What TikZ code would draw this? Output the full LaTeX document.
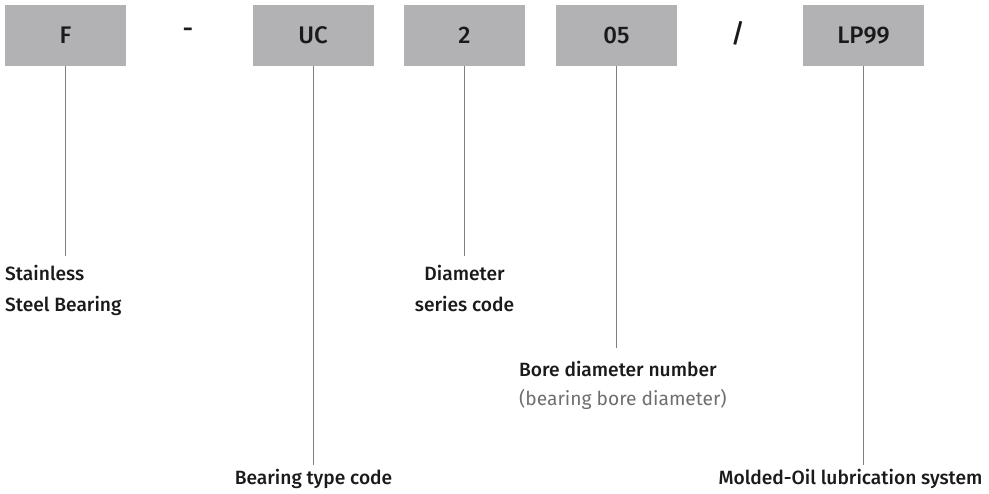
\documentclass[tikz,border=0pt]{standalone}
\usepackage{fontspec}
\setmainfont{Fira Sans}[BoldFont={Fira Sans Medium}]
\usetikzlibrary{positioning}
\definecolor{boxgray}{RGB}{178,178,180}
\definecolor{inkdark}{RGB}{26,26,26}
\definecolor{linegray}{RGB}{128,128,128}
\definecolor{notegray}{RGB}{110,110,110}

\begin{document}
\begin{tikzpicture}[x=1pt,y=-1pt,
  codebox/.style={fill=boxgray,minimum width=121pt,minimum height=61pt,inner sep=0pt,font=\fontsize{24}{28}\selectfont\bfseries,text=inkdark},
  sepmark/.style={inner sep=0pt,font=\fontsize{26}{30}\selectfont\bfseries,text=inkdark},
  labtext/.style={inner xsep=0pt,font=\fontsize{19.2}{31}\selectfont\bfseries,text=inkdark},
  conn/.style={draw=linegray,line width=0.8pt}]
\useasboundingbox (0,0) rectangle (989,494);
% code boxes along the top
\node[codebox] (boxF) at (65.5,35.5) {F};
\node[sepmark] (sepDash) at (188,33) {-};
\node[codebox] (boxUC) at (313,35.5) {UC};
\node[codebox] (box2) at (464.5,35.5) {2};
\node[codebox] (box05) at (616.5,35.5) {05};
\node[sepmark] (sepSlash) at (738,33) {/};
\node[codebox] (boxLP) at (863.5,35.5) {LP99};
% descriptions
\node[labtext,inner ysep=9pt,align=left,anchor=north west] (labF) at (5,256) {Stainless\\Steel Bearing};
\node[labtext,inner ysep=9pt,align=center,anchor=north] (lab2) at (464.5,256) {Diameter\\series code};
\node[labtext,inner ysep=13pt,align=left,anchor=north west] (lab05) at (519,348) {Bore diameter number\\[-2pt]\textcolor{notegray}{\mdseries(bearing bore diameter)}};
\node[labtext,inner ysep=4pt,anchor=north] (labUC) at (313.5,465) {Bearing type code};
\node[labtext,inner ysep=4pt,anchor=north] (labLP) at (850.5,465) {Molded-Oil lubrication system};
% leader lines
\draw[conn] (boxF.south) -- (boxF.south |- labF.north);
\draw[conn] (boxUC.south) -- (boxUC.south |- labUC.north);
\draw[conn] (box2.south) -- (lab2.north);
\draw[conn] (box05.south) -- (box05.south |- lab05.north);
\draw[conn] (boxLP.south) -- (boxLP.south |- labLP.north);
\end{tikzpicture}
\end{document}
